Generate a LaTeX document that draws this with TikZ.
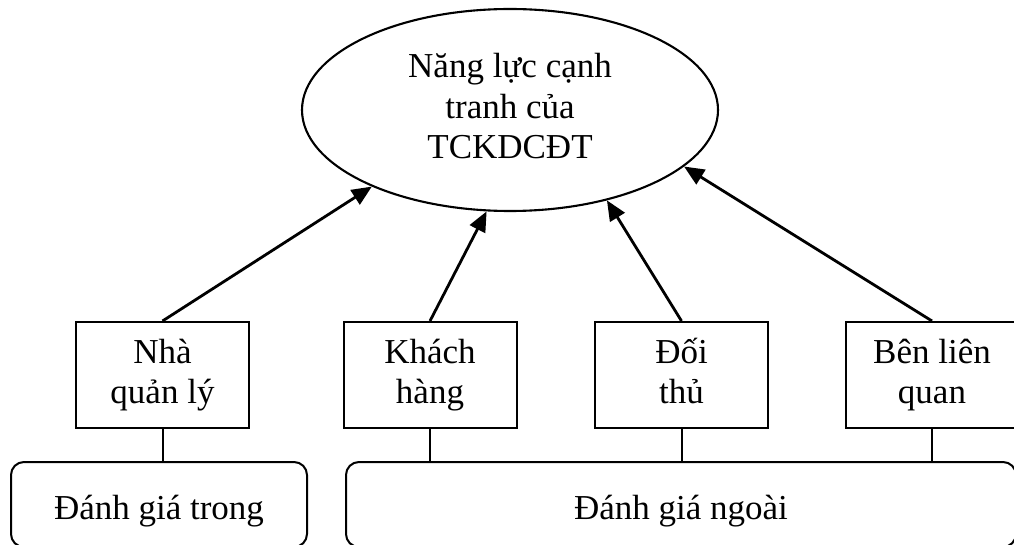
\documentclass[tikz,border=0pt]{standalone}
\usepackage{fontspec}
\setmainfont{Liberation Serif}
\usetikzlibrary{arrows.meta,shapes.geometric}
% fixed-height lines so that every label sits on the same baselines
\newcommand\firstln[2]{\rule{0pt}{#1}\smash{#2}}
\newcommand\lastln[2]{\rule[-#1]{0pt}{#1}\smash{#2}}
\begin{document}
\begin{tikzpicture}[x=1pt,y=-1pt,
  every node/.style={font=\fontsize{35}{40.5}\selectfont, align=center, inner sep=0pt},
  goal/.style={draw, ellipse, line width=2.1pt, minimum width=416pt, minimum height=202pt},
  actor/.style={draw, rectangle, line width=2pt, minimum width=173pt, minimum height=106pt},
  group/.style={draw, rectangle, rounded corners=13pt, line width=2pt, minimum height=85pt},
  link/.style={line width=2.8pt, -{Triangle[length=20pt,width=17pt]}},
  tie/.style={line width=2pt}]
\useasboundingbox (0,0) rectangle (1014,545);

% central goal
\node[goal] (ell) at (510,110)
  {\firstln{27pt}{Năng lực cạnh}\\tranh của\\\lastln{10pt}{TCKDCĐT}};

% evaluating parties
\node[actor] (b1) at (162.5,375) {\firstln{26.5pt}{Nhà}\\\lastln{10pt}{quản lý}};
\node[actor] (b2) at (430,375)   {\firstln{26.5pt}{Khách}\\\lastln{10pt}{hàng}};
\node[actor] (b3) at (681.5,375) {\firstln{26.5pt}{Đối}\\\lastln{10pt}{thủ}};
\node[actor] (b4) at (932,375)   {\firstln{26.5pt}{Bên liên}\\\lastln{10pt}{quan}};

% evaluation groups
\node[group, minimum width=296pt] (g1) at (159,504.5)
  {\rule[-5pt]{0pt}{40pt}\smash{Đánh giá trong}};
\node[group, minimum width=670pt] (g2) at (681,504.5)
  {\rule[-5pt]{0pt}{40pt}\smash{Đánh giá ngoài}};

% arrows into the goal
\draw[link] (b1.north) -- (ell.209);
\draw[link] (b2.north) -- (ell.257);
\draw[link] (b3.north) -- (ell.317);
\draw[link] (b4.north) -- (ell.342.6);

% ties to the groups
\draw[tie] (b1.south) -- (b1.south |- g1.north);
\draw[tie] (b2.south) -- (b2.south |- g2.north);
\draw[tie] (b3.south) -- (b3.south |- g2.north);
\draw[tie] (b4.south) -- (b4.south |- g2.north);
\end{tikzpicture}
\end{document}
